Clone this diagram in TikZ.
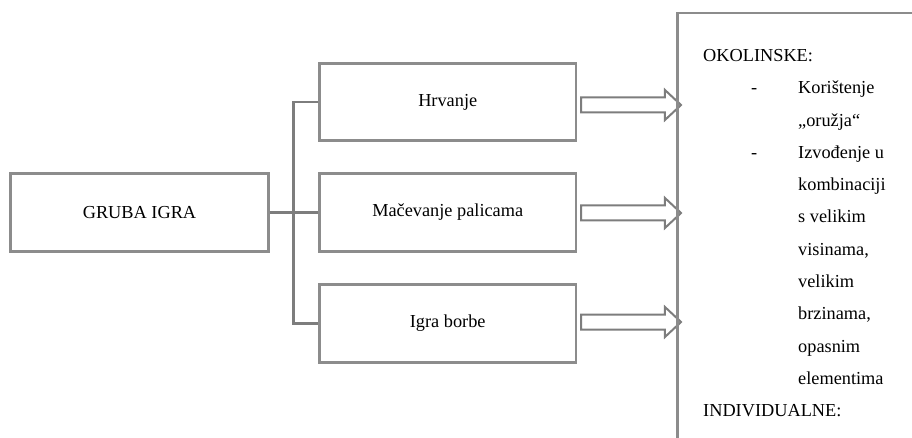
\documentclass[tikz,border=0pt]{standalone}
\usepackage{fontspec}
\setmainfont{Liberation Serif}
\usetikzlibrary{shapes.arrows}
\definecolor{boxgray}{RGB}{140,140,140}
\definecolor{linegray}{RGB}{125,125,125}
\begin{document}
\begin{tikzpicture}[x=1pt,y=-1pt,
  box/.style={draw=boxgray, line width=2.5pt, inner sep=0pt, font=\fontsize{18.3}{22}\selectfont},
  conn/.style={draw=linegray, line width=2.5pt},
  harrow/.style={single arrow, draw=linegray, line width=2pt, inner xsep=0pt, inner ysep=6.5pt,
    single arrow head extend=7.5pt, minimum height=100pt, minimum width=28pt, single arrow tip angle=86},
  lbl/.style={font=\fontsize{18.3}{22}\selectfont, inner sep=0pt, anchor=base west}]
\useasboundingbox[fill=white] (0,0) rectangle (912,438);
\clip (0,0) rectangle (912,438);
% boxes
\node[box, minimum width=258pt, minimum height=77.6pt] (g) at (139.5,212.5) {GRUBA IGRA};
\node[box, minimum width=256.5pt, minimum height=77pt] (h1) at (447.75,102.2) {Hrvanje};
\node[box, minimum width=256.5pt, minimum height=77.6pt] (h2) at (447.75,212.5) {Mačevanje palicama};
\node[box, minimum width=256.5pt, minimum height=77.6pt] (h3) at (447.75,323.5) {Igra borbe};
% branching connector
\coordinate (j) at (293.5,212.5);
\draw[conn] (g.east) -- (j);
\draw[conn] (h1.west) -| (j) |- (h3.west);
\draw[conn] (j) -- (h2.west);
% hollow arrows
\node[harrow] (a1) at (627,105) {};
\node[harrow] (a2) at (627,213) {};
\node[harrow] (a3) at (627,322) {};
% right panel (runs past the page edges)
\coordinate (rp) at (677.5,13);
\draw[draw=boxgray, line width=2.5pt] (677.5,520) -- (rp) -- (1000,13);
% panel text
\node[lbl] (t0) at (703,61.5) {OKOLINSKE:};
\node[lbl] (d1) at (751,93.8) {-};
\node[lbl] (t1) at (798,93.8) {Korištenje};
\node[lbl] (t2) at (798,126.1) {„oružja“};
\node[lbl] (d3) at (751,158.4) {-};
\node[lbl] (t3) at (798,158.4) {Izvođenje u};
\node[lbl] (t4) at (798,190.7) {kombinaciji};
\node[lbl] (t5) at (798,223) {s velikim};
\node[lbl] (t6) at (798,255.3) {visinama,};
\node[lbl] (t7) at (798,287.6) {velikim};
\node[lbl] (t8) at (798,319.9) {brzinama,};
\node[lbl] (t9) at (798,352.2) {opasnim};
\node[lbl] (t10) at (798,384.5) {elementima};
\node[lbl] (t11) at (703,416.8) {INDIVIDUALNE:};
\end{tikzpicture}
\end{document}
